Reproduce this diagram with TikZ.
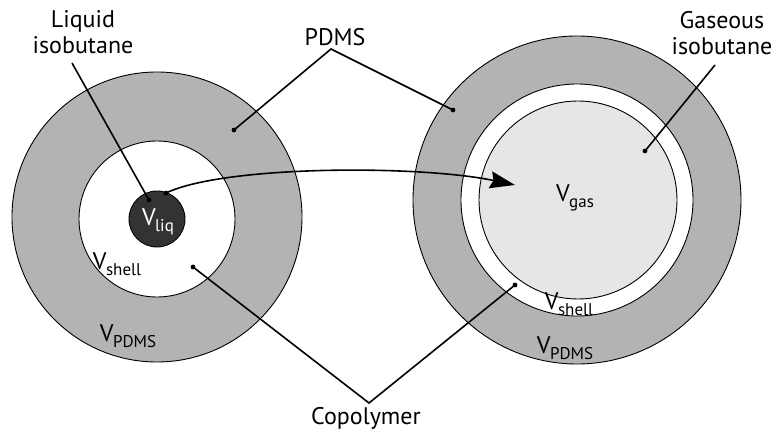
\documentclass[tikz,border=0pt]{standalone}
\usepackage{fontspec}
\setmainfont{PT Sans}
\usetikzlibrary{arrows.meta}
\definecolor{ringgray}{HTML}{B3B3B3}
\definecolor{gasgray}{HTML}{E6E6E6}
\definecolor{liqdark}{HTML}{333333}
\newcommand{\vsub}[1]{V\kern-0.5pt\raisebox{-5.5pt}{\fontsize{17}{17}\selectfont #1}}
\begin{document}
\begin{tikzpicture}[x=1pt,y=-1pt,
  font=\fontsize{24}{26}\selectfont,
  disc/.style={circle, draw=black, line width=0.9pt, inner sep=0pt},
  leader/.style={draw=black, line width=1.6pt},
  lbl/.style={align=center, inner sep=0pt}]
\useasboundingbox (0,0) rectangle (776,435);
% left particle
\node[disc, fill=ringgray, minimum size=290] (Lout) at (157,217) {};
\node[disc, fill=white, minimum size=156] (Lin) at (157,219) {};
\node[disc, fill=liqdark, minimum size=56] (Lliq) at (157,219) {};
% right particle
\node[disc, fill=ringgray, minimum size=328] (Rout) at (577,200) {};
\node[disc, fill=white, minimum size=232] (Rin) at (577,200) {};
\node[disc, fill=gasgray, minimum size=198] (Rgas) at (578,200) {};
% volume labels
\node[lbl, text=white] (vliq) at (158,222) {\vsub{liq}};
\node[lbl] (vshellL) at (117,264) {\vsub{shell}};
\node[lbl] (vpdmsL) at (128,336) {\vsub{PDMS}};
\node[lbl] (vgas) at (575,198) {\vsub{gas}};
\node[lbl] (vshellR) at (569,304) {\vsub{shell}};
\node[lbl] (vpdmsR) at (565,348) {\vsub{PDMS}};
% text labels
\node[lbl] (liqtxt) at (83,32) {Liquid\\isobutane};
\node[lbl] (pdmstxt) at (335,37) {PDMS};
\node[lbl] (gastxt) at (722,33) {Gaseous\\isobutane};
\node[lbl] (coptxt) at (366,418) {Copolymer};
% leader points
\coordinate (liqdot) at (149,200);
\coordinate (pdmsL) at (234,130);
\coordinate (pdmsR) at (453,110);
\coordinate (pdmsapex) at (331,49);
\coordinate (gasdot) at (645,151);
\coordinate (copL) at (193,267);
\coordinate (copR) at (515,285);
\coordinate (copapex) at (369,403);
\coordinate (liqtop) at (72,63);
\coordinate (gastop) at (715,65);
\coordinate (arrstart) at (166,193);
\coordinate (arrend) at (515,185);
% leaders
\draw[leader] (liqtop) -- (liqdot);
\draw[leader] (pdmsL) -- (pdmsapex) -- (pdmsR);
\draw[leader] (gastop) -- (gasdot);
\draw[leader] (copL) -- (copapex) -- (copR);
\foreach \p in {liqdot,pdmsL,pdmsR,gasdot,copL,copR,arrstart}
  \fill (\p) circle (2.4);
% transition arrow
\draw[leader, -{Stealth[length=25pt, width=17pt, inset=3pt]}]
  (arrstart) .. controls (225,165) and (420,165) .. (arrend);
\end{tikzpicture}
\end{document}
